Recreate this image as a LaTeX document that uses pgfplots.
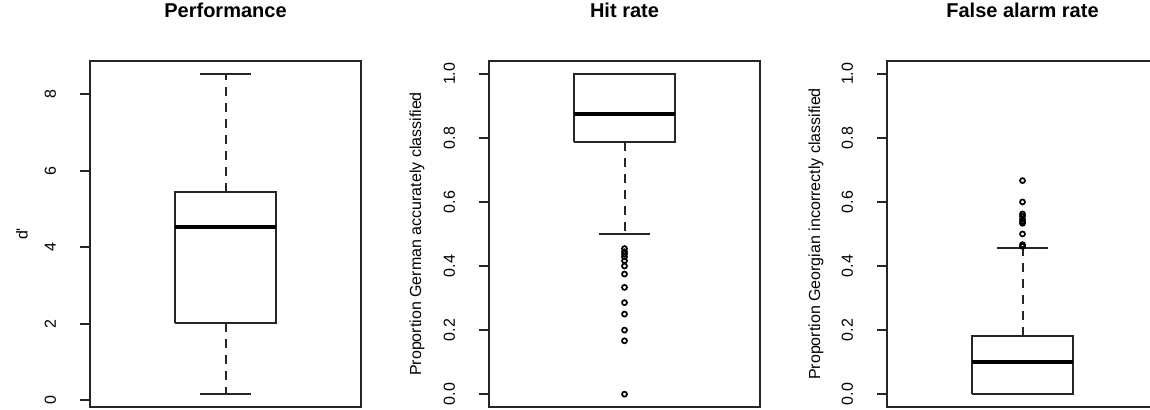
\documentclass[border=0pt]{standalone}
\usepackage{fontspec}
\setmainfont{Liberation Sans}
\usepackage{pgfplots}
\pgfplotsset{compat=1.18}

% R-style single boxplot panel
\pgfplotsset{rbox/.style={
  scale only axis, width=135.5pt, height=173pt,
  anchor=south west,
  xmin=0.46, xmax=1.54, xtick=\empty,
  ytick pos=left, tick align=outside, major tick length=5pt,
  axis line style={line width=1pt, black!85},
  every tick/.style={black!85, line width=1pt},
  /pgf/number format/assume math mode=true,
  tick label style={font=\fontsize{8}{9.6}\selectfont},
  yticklabel style={xshift=-14.8pt, rotate=90, anchor=center},
  label style={font=\fontsize{8}{9.6}\selectfont},
  title style={at={(0.5,1)}, anchor=base, yshift=15.8pt,
    font=\bfseries\fontsize{10}{12}\selectfont},
}}
\pgfplotsset{
  boxline/.style={black!85, line width=1pt},
  medline/.style={black, line width=2.2pt},
  whisk/.style={black!85, line width=1pt, dash pattern=on 4.5pt off 3.5pt},
  outl/.style={black, only marks, mark=o, mark size=1.25pt, line width=0.85pt},
}

\begin{document}
\begin{tikzpicture}
\useasboundingbox (0,0) rectangle (575pt,205pt);
\clip (0,0) rectangle (575pt,205pt);

% Performance
\begin{axis}[rbox, at={(45pt,1.5pt)},
  ymin=-0.175, ymax=8.865, ytick={0,2,4,6,8},
  title={Performance},
  ylabel={d\textquotesingle},
  ylabel style={at={(axis description cs:-0.251,0.5)}, anchor=center}]
  \addplot[boxline] coordinates {(0.8,2.02) (1.2,2.02) (1.2,5.43) (0.8,5.43) (0.8,2.02)};
  \addplot[medline] coordinates {(0.8,4.52) (1.2,4.52)};
  \addplot[whisk] coordinates {(1,5.43) (1,8.53)};
  \addplot[whisk] coordinates {(1,2.02) (1,0.16)};
  \addplot[boxline] coordinates {(0.9,8.53) (1.1,8.53)};
  \addplot[boxline] coordinates {(0.9,0.16) (1.1,0.16)};
\end{axis}

% Hit rate
\begin{axis}[rbox, at={(244.5pt,1.5pt)},
  ymin=-0.04, ymax=1.04, ytick={0,0.2,...,1},
  y tick label style={/pgf/number format/fixed, /pgf/number format/fixed zerofill,
    /pgf/number format/precision=1},
  title={Hit rate},
  ylabel={Proportion German accurately classified},
  ylabel style={at={(axis description cs:-0.266,0.5)}, anchor=center}]
  \addplot[boxline] coordinates {(0.8,0.786) (1.2,0.786) (1.2,1.0) (0.8,1.0) (0.8,0.786)};
  \addplot[medline] coordinates {(0.8,0.875) (1.2,0.875)};
  \addplot[whisk] coordinates {(1,0.786) (1,0.5)};
  \addplot[boxline] coordinates {(0.9,0.5) (1.1,0.5)};
  \addplot[boxline] coordinates {(0.9,1.0) (1.1,1.0)};
  \addplot[outl] coordinates {
    (1,0.4545) (1,0.4444) (1,0.4375) (1,0.4286) (1,0.4167) (1,0.4)
    (1,0.375) (1,0.3333) (1,0.2857) (1,0.25) (1,0.2) (1,0.1667) (1,0)};
\end{axis}

% False alarm rate
\begin{axis}[rbox, at={(443.5pt,1.5pt)},
  ymin=-0.04, ymax=1.04, ytick={0,0.2,...,1},
  y tick label style={/pgf/number format/fixed, /pgf/number format/fixed zerofill,
    /pgf/number format/precision=1},
  title={False alarm rate},
  ylabel={Proportion Georgian incorrectly classified},
  ylabel style={at={(axis description cs:-0.262,0.5)}, anchor=center}]
  \addplot[boxline] coordinates {(0.8,0) (1.2,0) (1.2,0.182) (0.8,0.182) (0.8,0)};
  \addplot[medline] coordinates {(0.8,0.1) (1.2,0.1)};
  \addplot[whisk] coordinates {(1,0.182) (1,0.455)};
  \addplot[boxline] coordinates {(0.9,0.455) (1.1,0.455)};
  \addplot[boxline] coordinates {(0.9,0) (1.1,0)};
  \addplot[outl] coordinates {
    (1,0.6667) (1,0.6) (1,0.5625) (1,0.5556) (1,0.5455) (1,0.5385)
    (1,0.5333) (1,0.5) (1,0.4667) (1,0.4615)};
\end{axis}
\end{tikzpicture}
\end{document}
